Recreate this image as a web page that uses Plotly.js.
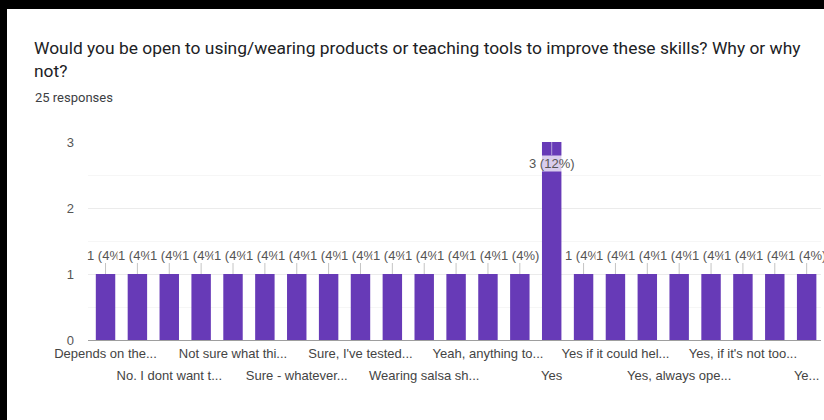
<!DOCTYPE html>
<html>
<head>
<meta charset="utf-8">
<script src="https://cdn.plot.ly/plotly-3.0.1.min.js"></script>
<style>
  html, body { margin: 0; padding: 0; background: #000; width: 824px; height: 420px; overflow: hidden; }
  #chart { position: absolute; left: 7px; top: 9px; width: 817px; height: 411px; background: #fff; }
</style>
</head>
<body>
<div id="chart"></div>
<script>
// ---- data ----
const questionText = "Would you be open to using/wearing products or teaching tools to improve these skills? Why or why<br>not?";
const responseCountText = "25 responses";
const answers = [
  "Depends on the...", "(hidden 2)", "No. I dont want t...", "(hidden 4)",
  "Not sure what thi...", "(hidden 6)", "Sure - whatever...", "(hidden 8)",
  "Sure, I've tested...", "(hidden 10)", "Wearing salsa sh...", "(hidden 12)",
  "Yeah, anything to...", "(hidden 14)", "Yes", "(hidden 16)",
  "Yes if it could hel...", "(hidden 18)", "Yes, always ope...", "(hidden 20)",
  "Yes, if it's not too...", "(hidden 22)", "Ye..."
];
const counts = [1,1,1,1,1,1,1,1,1,1,1,1,1,1,3,1,1,1,1,1,1,1,1];
const yTicks = [0, 1, 2, 3];

// ---- derived ----
const total = counts.reduce((a, b) => a + b, 0);
const idx = answers.map((_, i) => i);
const row1 = idx.filter(i => i % 4 === 0);
const row2 = idx.filter(i => i % 4 === 2);
const maxCount = Math.max(...counts);

const purple = "#673ab7";
const arial = "Arial, 'Liberation Sans', sans-serif";
const labelFont = { family: arial, size: 13, color: "#555" };

const barLabels = counts.map((v, i) => {
  const pct = Math.round(v / total * 100);
  const inside = v === maxCount;
  return {
    x: i, y: v, xref: "x", yref: "y",
    text: v + " (" + pct + "%)",
    showarrow: true, arrowhead: 0, arrowwidth: 1,
    arrowcolor: inside ? "#b39ddb" : "#c4c4c4",
    ax: 0, ay: inside ? 21 : -19,
    standoff: 0,
    bgcolor: inside ? "rgba(255,255,255,0.75)" : "#ffffff",
    borderpad: 0,
    font: labelFont
  };
});

const bars = {
  type: "bar",
  x: idx,
  y: counts,
  marker: { color: purple },
  hoverinfo: "skip"
};
// invisible companion so the second (staggered) label row axis is drawn
const secondRowAxisHolder = {
  type: "scatter", mode: "none",
  x: idx, y: counts,
  xaxis: "x2", yaxis: "y",
  hoverinfo: "skip", showlegend: false
};

const xCommon = {
  range: [-0.55, 22.45],
  showgrid: false,
  zeroline: false,
  showline: false,
  ticks: "",
  tickmode: "array",
  tickfont: { family: arial, size: 13, color: "#444" },
  fixedrange: true
};

const layout = {
  width: 817, height: 411,
  margin: { l: 81, r: 3, t: 133, b: 80, pad: 0 },
  paper_bgcolor: "#ffffff",
  plot_bgcolor: "#ffffff",
  showlegend: false,
  bargap: 0.39,
  title: {
    text: questionText,
    x: 27 / 817, xref: "container", xanchor: "left",
    y: 1 - 45 / 411, yref: "container", yanchor: "top",
    font: { family: "Roboto, Arial, sans-serif", size: 17.4, color: "#202124" }
  },
  xaxis: Object.assign({}, xCommon, {
    tickvals: row1,
    ticktext: row1.map(i => answers[i]),
    ticklabelstandoff: 4
  }),
  xaxis2: Object.assign({}, xCommon, {
    overlaying: "x", anchor: "y", side: "bottom",
    tickvals: row2,
    ticktext: row2.map(i => answers[i]),
    ticklabelstandoff: 26
  }),
  yaxis: {
    range: [0, 3],
    tickvals: yTicks,
    ticktext: yTicks.map(String),
    showgrid: true, gridcolor: "#ebebeb", gridwidth: 1,
    minor: { dtick: 0.5, showgrid: true, gridcolor: "#f6f6f6" },
    zeroline: true, zerolinecolor: "#9e9e9e", zerolinewidth: 1,
    showline: false, ticks: "",
    ticklabelstandoff: 13,
    tickfont: { family: arial, size: 13, color: "#555" },
    fixedrange: true
  },
  annotations: [
    {
      text: responseCountText, xref: "paper", yref: "paper",
      x: -55 / 733, y: 1 + 44 / 198, xanchor: "left", yanchor: "middle",
      showarrow: false,
      font: { family: "Roboto, Arial, sans-serif", size: 13, color: "#3c4043" }
    }
  ].concat(barLabels)
};

Plotly.newPlot("chart", [bars, secondRowAxisHolder], layout, { displayModeBar: false, staticPlot: true });
</script>
</body>
</html>
